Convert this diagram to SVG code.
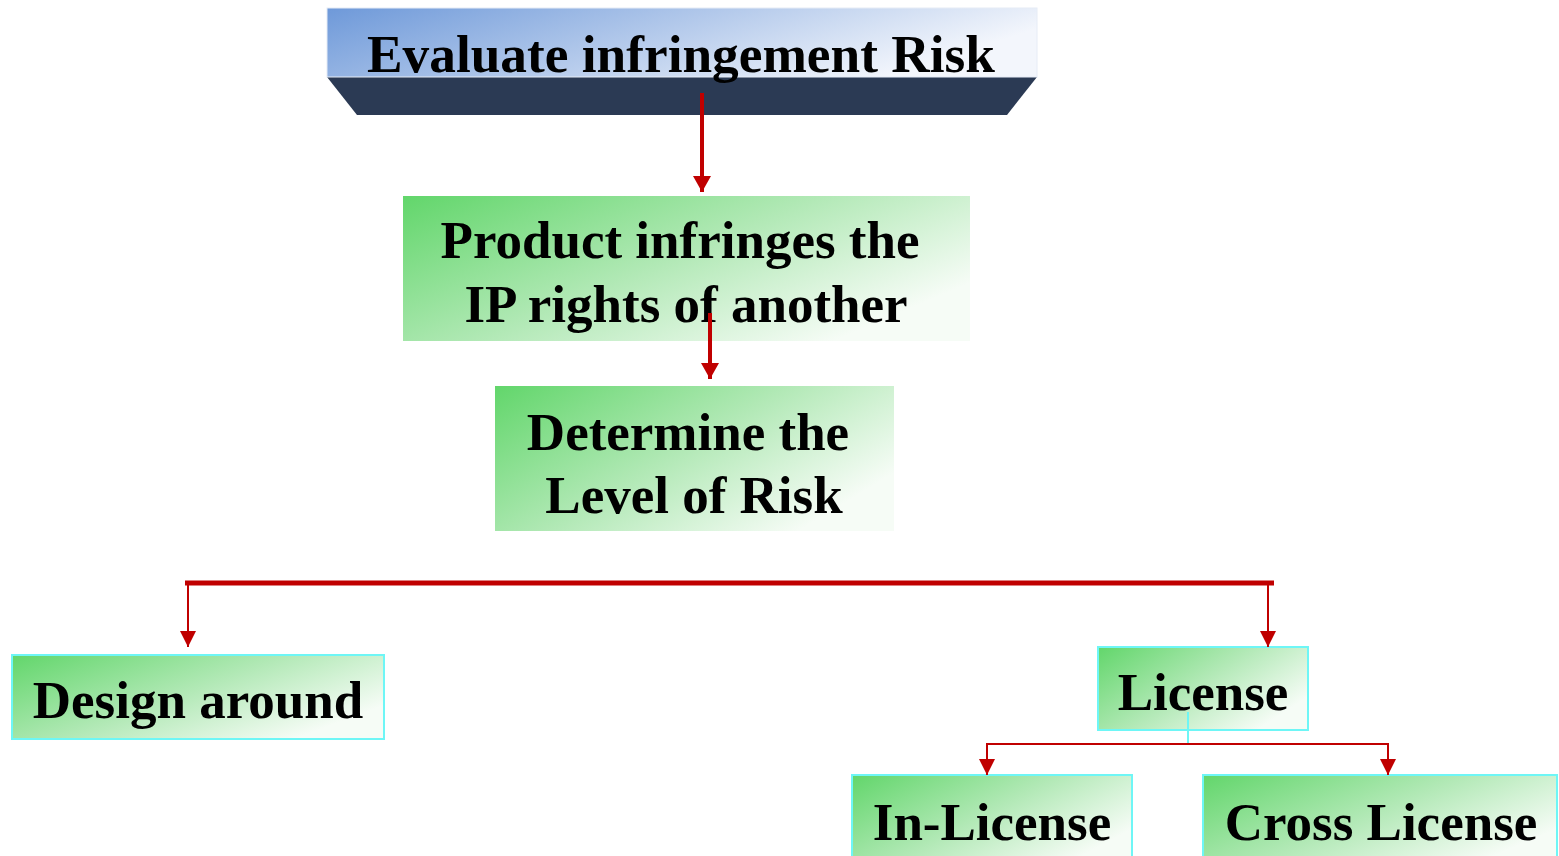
<svg xmlns="http://www.w3.org/2000/svg" width="1559" height="856" viewBox="0 0 1559 856">
  <defs>
    <linearGradient id="gGreen" x1="0" y1="0" x2="1" y2="0.6">
      <stop offset="0" stop-color="#62d66b"/>
      <stop offset="0.55" stop-color="#b3e9b7"/>
      <stop offset="1" stop-color="#f6fcf6"/>
    </linearGradient>
    <linearGradient id="gBlue" x1="0" y1="0" x2="1" y2="0.3">
      <stop offset="0" stop-color="#6e99d9"/>
      <stop offset="0.5" stop-color="#b0c7ea"/>
      <stop offset="1" stop-color="#f3f6fc"/>
    </linearGradient>
    <marker id="ahBig" viewBox="0 0 10 10" refX="10" refY="5" markerWidth="16" markerHeight="18" markerUnits="userSpaceOnUse" orient="auto-start-reverse" preserveAspectRatio="none">
      <path d="M0,0 L10,5 L0,10 Z" fill="#c00000"/>
    </marker>
    <marker id="ahSmall" viewBox="0 0 10 10" refX="10" refY="5" markerWidth="16" markerHeight="16" markerUnits="userSpaceOnUse" orient="auto-start-reverse" preserveAspectRatio="none">
      <path d="M0,0 L10,5 L0,10 Z" fill="#c00000"/>
    </marker>
  </defs>
  <style>
    .lbl { font-family: "Liberation Serif", "Times New Roman", serif; font-weight: bold; font-size: 53px; fill: #000; text-anchor: middle; }
    .box { fill: url(#gGreen); }
    .boxc { fill: url(#gGreen); stroke: #6ef6f6; stroke-width: 2; }
    .wire { fill: none; stroke: #c00000; }
  </style>

  <g id="node-evaluate">
    <polygon points="327,77 1037,77 1007,115 357,115" fill="#2b3a54"/>
    <rect x="327" y="8" width="710" height="69" fill="url(#gBlue)" stroke="#e6ecf6" stroke-width="1"/>
    <text class="lbl" x="681" y="72" font-size="55" textLength="628" lengthAdjust="spacingAndGlyphs">Evaluate infringement Risk</text>
  </g>

  <g id="node-product">
    <rect class="box" x="403" y="196" width="567" height="145"/>
    <text class="lbl" x="680" y="258">Product infringes the</text>
    <text class="lbl" x="686" y="322">IP rights of another</text>
  </g>

  <g id="node-level">
    <rect class="box" x="495" y="386" width="399" height="145"/>
    <text class="lbl" x="688" y="450">Determine the</text>
    <text class="lbl" x="694" y="513">Level of Risk</text>
  </g>

  <g id="node-design">
    <rect class="boxc" x="12" y="655" width="372" height="84"/>
    <text class="lbl" x="198" y="718">Design around</text>
  </g>

  <g id="node-license">
    <rect class="boxc" x="1098" y="647" width="210" height="83"/>
    <text class="lbl" x="1203" y="710">License</text>
  </g>

  <g id="node-inlicense">
    <rect class="boxc" x="852" y="775" width="280" height="90"/>
    <text class="lbl" x="992" y="840">In-License</text>
  </g>

  <g id="node-cross">
    <rect class="boxc" x="1203" y="775" width="354" height="90"/>
    <text class="lbl" x="1381" y="840">Cross License</text>
  </g>

  <g id="connectors">
    <line class="wire" x1="702" y1="93" x2="702" y2="192" stroke-width="4" marker-end="url(#ahBig)"/>
    <line class="wire" x1="710" y1="313" x2="710" y2="379" stroke-width="4" marker-end="url(#ahBig)"/>
    <line class="wire" x1="185" y1="583" x2="1274" y2="583" stroke-width="5"/>
    <line class="wire" x1="188" y1="583" x2="188" y2="647" stroke-width="2" marker-end="url(#ahSmall)"/>
    <line class="wire" x1="1268" y1="583" x2="1268" y2="647" stroke-width="2" marker-end="url(#ahSmall)"/>
    <line x1="1188" y1="712" x2="1188" y2="744" stroke="#6ef6f6" stroke-width="2"/>
    <polyline class="wire" points="987,775 987,744 1388,744 1388,775" stroke-width="2" marker-start="url(#ahSmall)" marker-end="url(#ahSmall)"/>
  </g>
</svg>
